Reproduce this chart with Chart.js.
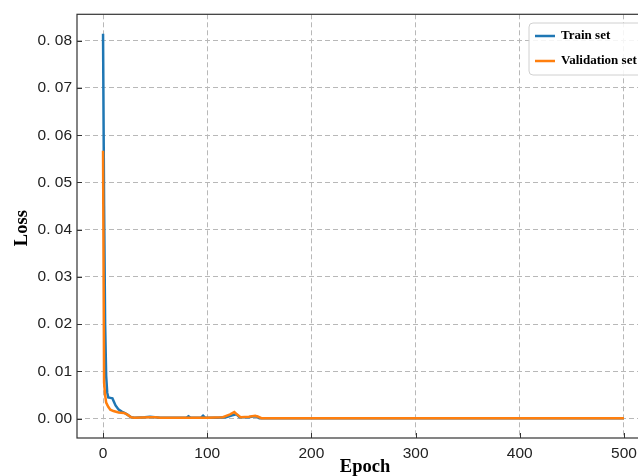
<!DOCTYPE html>
<html>
<head>
<meta charset="utf-8">
<script src="https://cdn.jsdelivr.net/npm/chart.js@4/dist/chart.umd.min.js"></script>
<style>
    html, body { margin: 0; padding: 0; background: #fff; overflow: hidden; }
    #wrap { width: 638px; height: 476px; overflow: hidden; }
    canvas { display: block; }
</style>
</head>
<body>
<div id="wrap"><canvas id="chart" width="652" height="476"></canvas></div>
<script>
// Values (epoch, loss keypoints)
const trainEpochs = [0, 1, 2, 3, 4, 5, 7, 9, 10, 12, 15, 18, 20, 23, 27, 30, 40, 45, 50, 55, 70, 80, 82, 84, 94, 96, 98, 110, 118, 124, 128, 131, 140, 145, 148, 150, 200, 300, 400, 500];
const trainLoss = [0.0815, 0.045, 0.02, 0.009, 0.0055, 0.0045, 0.0044, 0.0043, 0.0038, 0.0028, 0.0019, 0.0015, 0.0013, 0.0009, 0.0003, 0.0002, 0.0003, 0.0004, 0.0003, 0.0002, 0.0002, 0.0002, 0.0005, 0.0002, 0.0002, 0.0006, 0.0002, 0.0002, 0.0003, 0.0007, 0.0009, 0.0003, 0.0003, 0.0005, 0.0004, 0.0001, 0.0001, 0.0001, 0.0001, 0.0001];

const valEpochs = [0, 1, 2, 3, 5, 7, 10, 15, 20, 23, 27, 30, 45, 50, 55, 100, 115, 122, 126, 129, 132, 140, 146, 149, 152, 200, 300, 400, 500];
const valLoss = [0.0567, 0.0076, 0.005, 0.0034, 0.0025, 0.0019, 0.0016, 0.0013, 0.0012, 0.0009, 0.0003, 0.0002, 0.0003, 0.0003, 0.0002, 0.0002, 0.0003, 0.0009, 0.0014, 0.0008, 0.0003, 0.0004, 0.0006, 0.0004, 0.0001, 0.0001, 0.0001, 0.0001, 0.0001];

const xTickValues = [0, 100, 200, 300, 400, 500];
const yTickValues = [0, 0.01, 0.02, 0.03, 0.04, 0.05, 0.06, 0.07, 0.08];
const yTickLabels = ['0. 00', '0. 01', '0. 02', '0. 03', '0. 04', '0. 05', '0. 06', '0. 07', '0. 08'];

const seriesNames = ['Train set', 'Validation set'];
const seriesColors = ['#1f77b4', '#ff7f0e'];

const toPoints = (xs, ys) => xs.map((x, i) => ({ x: x, y: ys[i] }));

// spines, inward ticks, axis titles and the in-plot legend
const decorPlugin = {
    id: 'decor',
    afterDraw(chart) {
        const { ctx, chartArea: a, scales } = chart;
        ctx.save();

        // spines
        ctx.strokeStyle = '#333';
        ctx.lineWidth = 1.2;
        ctx.strokeRect(a.left, a.top, a.right - a.left, a.bottom - a.top);

        // inward tick marks
        ctx.lineWidth = 1;
        ctx.beginPath();
        xTickValues.forEach((v) => {
            const px = Math.round(scales.x.getPixelForValue(v)) + 0.5;
            ctx.moveTo(px, a.bottom);
            ctx.lineTo(px, a.bottom - 5);
        });
        yTickValues.forEach((v) => {
            const py = Math.round(scales.y.getPixelForValue(v)) + 0.5;
            ctx.moveTo(a.left, py);
            ctx.lineTo(a.left + 5, py);
        });
        ctx.stroke();

        // axis titles
        ctx.fillStyle = '#000';
        ctx.font = 'bold 18.5px "Liberation Serif", "Times New Roman", serif';
        ctx.textAlign = 'center';
        ctx.textBaseline = 'alphabetic';
        ctx.fillText('Epoch', 365, 472);

        ctx.save();
        ctx.translate(27, (a.top + a.bottom) / 2 + 2);
        ctx.rotate(-Math.PI / 2);
        ctx.fillText('Loss', 0, 0);
        ctx.restore();

        // legend box
        const bx = 529, by = 23, bw = 114, bh = 52, r = 4;
        ctx.beginPath();
        ctx.moveTo(bx + r, by);
        ctx.arcTo(bx + bw, by, bx + bw, by + bh, r);
        ctx.arcTo(bx + bw, by + bh, bx, by + bh, r);
        ctx.arcTo(bx, by + bh, bx, by, r);
        ctx.arcTo(bx, by, bx + bw, by, r);
        ctx.closePath();
        ctx.fillStyle = 'rgba(255,255,255,0.85)';
        ctx.fill();
        ctx.strokeStyle = '#d0d0d0';
        ctx.lineWidth = 1;
        ctx.stroke();

        ctx.font = 'bold 13px "Liberation Serif", "Times New Roman", serif';
        ctx.textAlign = 'left';
        ctx.textBaseline = 'middle';
        seriesNames.forEach((name, i) => {
            const ly = 36 + i * 25;
            ctx.strokeStyle = seriesColors[i];
            ctx.lineWidth = 2.5;
            ctx.beginPath();
            ctx.moveTo(535, ly);
            ctx.lineTo(555, ly);
            ctx.stroke();
            ctx.fillStyle = '#000';
            ctx.fillText(name, 561, ly);
        });

        ctx.restore();
    }
};

const gridStyle = { color: '#b8b8b8', lineWidth: 1, drawTicks: false };
const tickFont = { family: '"Liberation Sans", Arial, sans-serif', size: 15.5 };

new Chart(document.getElementById('chart'), {
    type: 'line',
    data: {
        datasets: [
            {
                label: seriesNames[0],
                data: toPoints(trainEpochs, trainLoss),
                borderColor: seriesColors[0],
                borderWidth: 2.5,
                pointRadius: 0,
                tension: 0,
                order: 2,
            },
            {
                label: seriesNames[1],
                data: toPoints(valEpochs, valLoss),
                borderColor: seriesColors[1],
                borderWidth: 2.5,
                pointRadius: 0,
                tension: 0,
                order: 1,
            },
        ],
    },
    options: {
        responsive: false,
        animation: false,
        layout: { padding: { top: 14, right: 2, left: 0, bottom: 0 } },
        plugins: {
            legend: { display: false },
            tooltip: { enabled: false },
        },
        scales: {
            x: {
                type: 'linear',
                min: -25,
                max: 525,
                grid: gridStyle,
                border: { display: false, dash: [5, 3] },
                afterBuildTicks: (scale) => {
                    scale.ticks = xTickValues.map((v) => ({ value: v }));
                },
                afterFit: (scale) => { scale.height = 38; },
                ticks: {
                    padding: 6,
                    color: '#222',
                    font: tickFont,
                    maxRotation: 0,
                    callback: (v) => String(v),
                },
            },
            y: {
                type: 'linear',
                min: -0.0041,
                max: 0.0856,
                grid: gridStyle,
                border: { display: false, dash: [5, 3] },
                afterBuildTicks: (scale) => {
                    scale.ticks = yTickValues.map((v) => ({ value: v }));
                },
                afterFit: (scale) => { scale.width = 77; },
                ticks: {
                    padding: 5,
                    color: '#222',
                    font: tickFont,
                    callback: (v, i) => yTickLabels[i],
                },
            },
        },
    },
    plugins: [decorPlugin],
});
</script>
</body>
</html>
